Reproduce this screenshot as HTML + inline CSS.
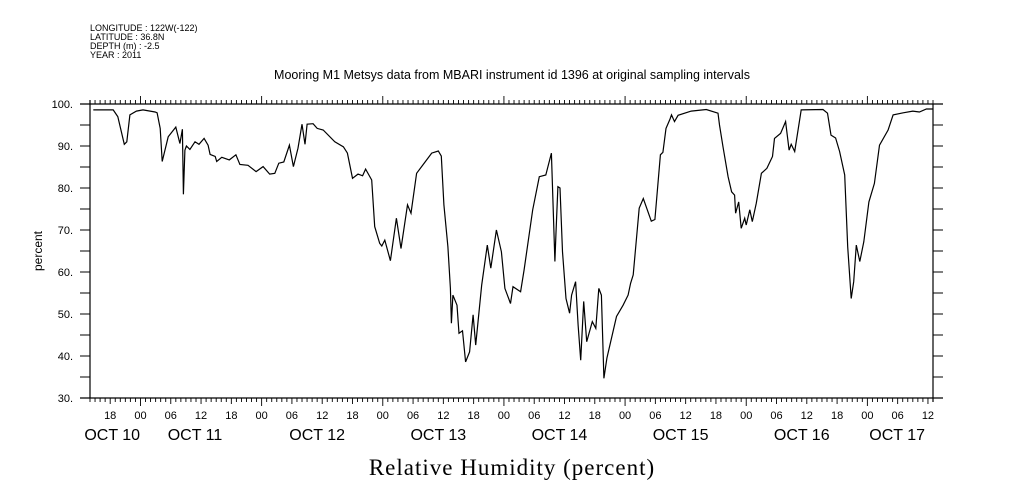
<!DOCTYPE html>
<html><head><meta charset="utf-8"><style>
html,body{margin:0;padding:0;background:#fff;}
svg{display:block;font-family:"Liberation Sans",sans-serif;}
</style></head><body>
<svg id="chart" width="1009" height="504" viewBox="0 0 1009 504" xmlns="http://www.w3.org/2000/svg">
<g font-size="9" fill="#000">
<text x="90" y="31">LONGITUDE : 122W(-122)</text>
<text x="90" y="40">LATITUDE : 36.8N</text>
<text x="90" y="49">DEPTH (m) : -2.5</text>
<text x="90" y="58">YEAR : 2011</text>
</g>
<text x="512" y="79" text-anchor="middle" font-size="12.5">Mooring M1 Metsys data from MBARI instrument id 1396 at original sampling intervals</text>
<text transform="translate(42,251) rotate(-90)" text-anchor="middle" font-size="12">percent</text>
<text x="512" y="475" text-anchor="middle" font-family="Liberation Serif, serif" font-size="23" letter-spacing="1">Relative Humidity (percent)</text>
<g id="axes"></g>
<g id="plot"></g>
</svg>
<script>
// hours since Oct 10 14:00
const hours = [0.65,4.6,5.5,6.8,7.3,7.9,9.2,10.5,12.9,13.3,13.9,14.3,15.5,17.0,17.8,18.3,18.5,18.8,19.1,19.8,20.8,21.6,22.6,23.4,23.8,24.8,25.1,26.1,27.6,28.9,29.7,31.3,32.9,34.3,35.6,36.6,37.4,38.4,39.5,40.3,41.2,42.0,42.6,43.0,44.2,45.0,46.2,48.5,50.2,51.0,52.0,53.1,54.0,54.6,55.8,56.4,57.4,57.8,58.4,59.5,60.7,61.6,62.9,63.6,64.7,66.0,67.7,69.0,69.6,70.1,70.9,71.4,71.6,71.9,72.7,73.1,73.8,74.4,75.2,75.9,76.4,77.6,78.7,79.4,80.5,81.5,82.2,83.3,83.8,85.3,86.0,87.7,89.0,90.3,91.4,92.1,92.3,92.7,93.1,93.6,94.3,95.0,95.4,96.2,96.7,97.2,97.8,98.4,99.5,100.2,100.8,101.3,101.8,102.4,104.3,105.6,106.6,107.1,107.6,108.8,109.6,111.2,111.9,113.0,113.5,114.1,114.9,115.2,115.8,116.5,119.1,122.1,124.4,124.7,125.4,126.4,127.1,127.7,127.9,128.5,129.0,129.7,130.0,130.7,131.2,132.0,133.0,134.1,135.2,135.6,136.8,137.8,138.5,138.9,139.6,140.9,145.2,146.1,146.8,147.7,148.5,149.5,150.1,150.8,151.3,151.8,152.5,153.3,154.3,155.4,156.4,158.1,159.1,161.1,163.0,164.3,165.7,167];
const humidity = [98.6,98.6,97,90.4,91,97.4,98.3,98.6,98.1,97.9,94.2,86.3,92.2,94.5,90.6,94,78.5,89,90,89.2,91,90.4,91.8,90.2,88,87.5,86.3,87.3,86.7,87.9,85.6,85.4,83.9,85.1,83.3,83.5,85.9,86.2,90.2,85.1,89.5,95.2,90.4,95.2,95.3,94.2,93.8,91,89.8,88.3,82.3,83.3,82.9,84.5,81.9,70.8,66.8,66.2,67.6,62.7,72.8,65.6,76,74,83.5,85.6,88.3,88.8,87.6,76,66,56.1,47.8,54.5,52.1,45.4,46,38.6,41,49.8,42.6,56.9,66.4,60.9,70,64.8,56.1,52.5,56.5,55.3,60.5,74.8,82.7,83.1,88.3,62.5,68.8,80.3,80,64.8,53.7,50.2,54.5,57.7,47.4,39,53,43.4,48.2,46.6,56.1,54.5,34.7,39.5,49.4,52.1,54.5,57.3,59.3,75.2,77.5,72.1,72.5,87.9,88.5,94.2,96.4,97.4,95.8,97.3,98.3,98.7,97.8,95,89.8,82.7,79.1,78.3,74,76.7,70.4,72.8,71.2,74.8,72,76.4,83.5,84.7,87.5,91.8,93,95.8,89,90.4,88.7,98.6,98.7,97.8,92.6,91.9,88.7,83.1,66,53.7,57.7,66.4,62.5,67.2,76.7,81.1,90.2,93.8,97.4,97.9,98.3,98.1,98.8,98.8];
const yTicks = [30,40,50,60,70,80,90,100];
const hourLabels = ["18","00","06","12"];
const dayLabels = ["OCT 10","OCT 11","OCT 12","OCT 13","OCT 14","OCT 15","OCT 16","OCT 17"];
const dayLabelHour = [4.4,20.8,45,69,93,117,141,159.9];

const X0=90,X1=933,Y0=104,Y1=398,HMAX=167;
const xs=h=>X0+(h/HMAX)*(X1-X0);
const ys=v=>Y1-(v-30)/70*(Y1-Y0);
const NS="http://www.w3.org/2000/svg";
const axes=document.getElementById('axes'), plot=document.getElementById('plot');
function mk(tag,attrs,parent){const e=document.createElementNS(NS,tag);for(const k in attrs)e.setAttribute(k,attrs[k]);parent.appendChild(e);return e;}

let l=mk('line',{x1:X0,y1:Y0-4,x2:X0,y2:Y1,stroke:'#000','stroke-width':1.2},axes);


l=mk('line',{x1:X1,y1:Y0,x2:X1,y2:Y1+4,stroke:'#000','stroke-width':1.2},axes);


l=mk('line',{x1:X0-10,y1:Y1,x2:X1+10,y2:Y1,stroke:'#000','stroke-width':1.2},axes);


l=mk('line',{x1:X0-10,y1:Y0,x2:X1+10,y2:Y0,stroke:'#000','stroke-width':1.2},axes);



for(let v=30;v<=100;v+=5){
  const y=ys(v);
  let t=mk('line',{x1:X0-10,y1:y,x2:X0,y2:y,stroke:'#000'},axes);
  
  
  t=mk('line',{x1:X1,y1:y,x2:X1+10,y2:y,stroke:'#000'},axes);
  
  
}
yTicks.forEach(v=>{
  const t=mk('text',{x:X0-17,y:ys(v)+4,'text-anchor':'end','font-size':11},axes);
  t.textContent=v+'.';
  
  
});
for(let h=0;h<=HMAX;h++){
  const clock=(h+14)%24, x=xs(h);
  const major=clock===0, mid=clock%6===0;
  let t=mk('line',{x1:x,y1:Y1,x2:x,y2:Y1+(major?8:(mid?6:4)),stroke:'#000','stroke-width':0.9},axes);
  
  
  t=mk('line',{x1:x,y1:Y0,x2:x,y2:Y0-(major?8:4),stroke:'#000','stroke-width':0.9},axes);
  
  
  if(mid){
    const lab=mk('text',{x:x,y:419,'text-anchor':'middle','font-size':11},axes);
    lab.textContent=hourLabels[[18,0,6,12].indexOf(clock)];
    
    
  }
}
dayLabels.forEach((d,i)=>{
  const t=mk('text',{x:xs(dayLabelHour[i]),y:440,'text-anchor':'middle','font-size':16},axes);
  t.textContent=d;
  
  
});
const pts=hours.map((h,i)=>xs(h).toFixed(1)+','+ys(humidity[i]).toFixed(1)).join(' ');
const line=mk('polyline',{points:pts,fill:'none',stroke:'#000','stroke-width':1.2,'stroke-linejoin':'miter'},plot);


</script>
</body></html>
